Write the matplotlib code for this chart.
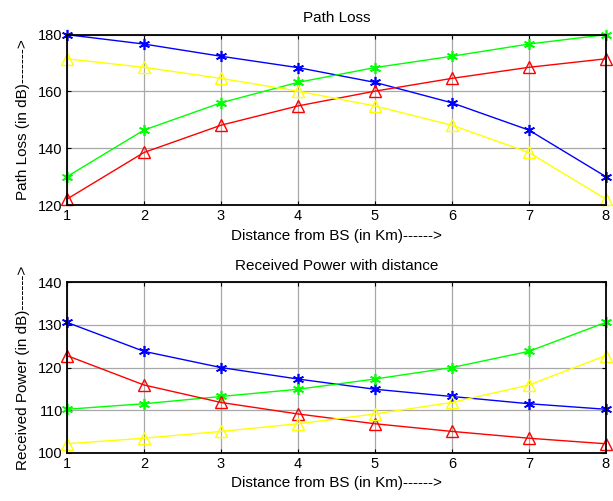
import matplotlib
matplotlib.use('Agg')
import matplotlib.pyplot as plt

plt.rcParams['font.family'] = ['Liberation Sans', 'DejaVu Sans']

# distance from base station (km)
distance = [1, 2, 3, 4, 5, 6, 7, 8]

# path loss (dB)
pl_blue = [180.0, 176.7, 172.4, 168.4, 163.2, 156.0, 146.4, 130.0]
pl_green = [130.0, 146.4, 156.0, 163.2, 168.4, 172.4, 176.7, 180.0]
pl_yellow = [171.5, 168.5, 164.6, 160.1, 154.9, 148.1, 138.5, 122.1]
pl_red = [122.1, 138.5, 148.1, 154.9, 160.1, 164.6, 168.5, 171.5]

# received power (dB)
rp_blue = [130.6, 123.8, 120.0, 117.3, 114.9, 113.2, 111.5, 110.2]
rp_green = [110.2, 111.5, 113.2, 114.9, 117.3, 120.0, 123.8, 130.6]
rp_red = [122.8, 115.9, 111.8, 109.1, 106.8, 105.0, 103.4, 102.1]
rp_yellow = [102.1, 103.4, 105.0, 106.8, 109.1, 111.8, 115.9, 122.8]

fig = plt.figure(figsize=(6.13, 5.01), dpi=100)
ax1 = fig.add_axes([0.1093, 0.5908, 0.879, 0.340])
ax2 = fig.add_axes([0.1093, 0.0964, 0.879, 0.340])

star = (6, 2, 0)  # asterisk like matlab '*'


def style(ax, ylim, yticks):
    ax.set_xlim(1, 8)
    ax.set_ylim(*ylim)
    ax.set_xticks(distance)
    ax.set_yticks(yticks)
    ax.grid(True, color='#a8a8a8', linewidth=0.9, linestyle='-')
    ax.set_axisbelow(True)
    ax.tick_params(direction='in', top=True, right=True, length=3, labelsize=10.5, pad=3)
    for s in ax.spines.values():
        s.set_linewidth(1.3)
        s.set_color('black')


def draw(ax, blue, green, red, yellow):
    ax.plot(distance, blue, color='blue', marker=star, markersize=8, markeredgewidth=1.2, linewidth=1, clip_on=False)
    ax.plot(distance, green, color='#00ff00', marker=star, markersize=8, markeredgewidth=1.2, linewidth=1, clip_on=False)
    ax.plot(distance, red, color='red', marker='^', markersize=9, markerfacecolor='none', linewidth=1, clip_on=False)
    ax.plot(distance, yellow, color='yellow', marker='^', markersize=9, markerfacecolor='none', linewidth=1, clip_on=False)


draw(ax1, pl_blue, pl_green, pl_red, pl_yellow)
style(ax1, (120, 180), [120, 140, 160, 180])
ax1.set_title('Path Loss', fontsize=11, pad=9)
ax1.set_xlabel('Distance from BS (in Km)------>', fontsize=11, labelpad=4)
ax1.set_ylabel('Path Loss (in dB)------->', fontsize=11, labelpad=6)

draw(ax2, rp_blue, rp_green, rp_red, rp_yellow)
style(ax2, (100, 140), [100, 110, 120, 130, 140])
ax2.set_title('Received Power with distance', fontsize=11, pad=9)
ax2.set_xlabel('Distance from BS (in Km)------>', fontsize=11, labelpad=4)
ax2.set_ylabel('Received Power (in dB)------->', fontsize=11, labelpad=6)

fig.savefig('out.png', dpi=100)
